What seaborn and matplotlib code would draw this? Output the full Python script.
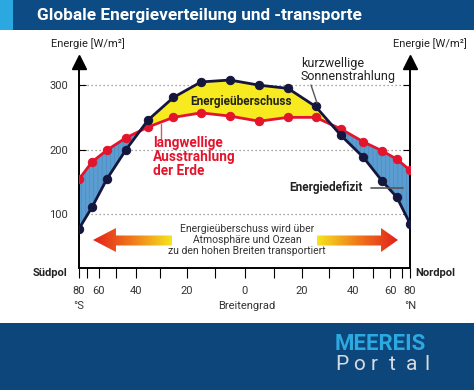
import numpy as np
import pandas as pd
import seaborn as sns
import matplotlib.pyplot as plt
from matplotlib.patches import Rectangle, Polygon
from matplotlib.colors import LinearSegmentedColormap

# Daten
breite = [-80, -65, -55, -45, -35, -25, -15, -5, 5, 15, 25, 35, 45, 55, 65, 80]
kurzwellig = [77, 111, 154, 199, 246, 281, 305, 308, 300, 295, 267, 222, 188, 151, 126, 85]
langwellig = [154, 181, 199, 218, 235, 250, 257, 252, 244, 250, 250, 232, 212, 198, 185, 168]
tick_breite = list(range(-80, 81, 10))
tick_text = ['80', '', '60', '', '40', '', '20', '', '0', '', '20', '', '40', '', '60', '', '80']
y_ticks = [100, 200, 300]

sns.set_theme(style="ticks")
plt.rcParams['font.family'] = ['Roboto', 'DejaVu Sans']
plt.rcParams['hatch.linewidth'] = 0.4

NAVY = '#15163d'
ROT = '#e3142c'
GELB = '#f7ea1e'
BLAU = '#5b9dd0'
DUNKEL = '#222222'

df = pd.DataFrame({'breite': breite, 'kurz': kurzwellig, 'lang': langwellig})
df['x'] = np.sin(np.radians(df['breite']))

fig = plt.figure(figsize=(4.74, 3.9), dpi=100)
W, H = 474, 390
ax = fig.add_axes([79 / W, 1 - 268 / H, 331 / W, (268 - 62) / H])

x = df['x'].values
k = df['kurz'].values
l = df['lang'].values
ax.fill_between(x, l, k, where=k >= l, interpolate=True, color=GELB, lw=0, zorder=1)
ax.fill_between(x, l, k, where=k <= l, interpolate=True, facecolor=BLAU,
                edgecolor='#4a88bd', hatch='||||', lw=0, zorder=1)

sns.lineplot(data=df, x='x', y='lang', ax=ax, color=ROT, marker='o', markersize=6,
             markeredgecolor=ROT, linewidth=2, sort=False, zorder=3)
sns.lineplot(data=df, x='x', y='kurz', ax=ax, color=NAVY, marker='o', markersize=6,
             markeredgecolor=NAVY, linewidth=2, sort=False, zorder=4)

ax.set_xlim(np.sin(np.radians(-80)), np.sin(np.radians(80)))
ax.set_ylim(16, 336)
ax.set_xticks(np.sin(np.radians(tick_breite)))
ax.set_xticklabels(tick_text, fontsize=8, color='#333333')
ax.set_yticks(y_ticks)
ax.set_yticklabels([str(v) for v in y_ticks], fontsize=8, color='#333333')
ax.set_xlabel('')
ax.set_ylabel('')
ax.tick_params(axis='x', direction='out', length=7, width=0.8, pad=6, color='black')
ax.tick_params(axis='y', direction='in', length=5, width=0.8, pad=8, left=True, right=True, color='black')
for v in y_ticks:
    ax.axhline(v, color='#8a8a8a', lw=0.9, ls=(0, (1, 2.2)), zorder=0)
ax.spines['top'].set_visible(False)
for s in ['left', 'right', 'bottom']:
    ax.spines[s].set_visible(True)
    ax.spines[s].set_color('black')
    ax.spines[s].set_linewidth(1.4)
ax.plot([0, 1], [1, 1], transform=ax.transAxes, marker='^', ms=10, color='black',
        ls='none', clip_on=False, zorder=5)
ax.set_facecolor('white')

# Overlay fuer Rahmen, Texte und Pfeile (Pixelkoordinaten)
ox = fig.add_axes([0, 0, 1, 1], zorder=5)
ox.patch.set_visible(False)
ox.axis('off')

ox.add_patch(Rectangle((0, 0), W, 30, color='#0d4b84', lw=0))
ox.add_patch(Rectangle((0, 0), 13, 30, color='#2aa8df', lw=0))
ox.text(37, 15.5, 'Globale Energieverteilung und -transporte', color='white',
        fontsize=12.4, fontweight='bold', ha='left', va='center')

ox.add_patch(Rectangle((0, 323), W, H - 323, color='#0d467b', lw=0))
ox.text(335, 344, 'MEEREIS', color='#2ba9e0', fontsize=16, fontweight='bold',
        ha='left', va='center')
for i, c in enumerate('Portal'):
    ox.text(335 + i * 17.8, 365, c, color='#d6dbe0', fontsize=15, ha='left', va='center')

ox.text(88, 44, 'Energie [W/m²]', fontsize=8, color=DUNKEL, ha='center', va='center')
ox.text(430, 44, 'Energie [W/m²]', fontsize=8, color=DUNKEL, ha='center', va='center')

ox.text(301, 70, 'kurzwellige\nSonnenstrahlung', fontsize=9, color=DUNKEL,
        ha='left', va='center', linespacing=1.05)
ox.plot([311, 317], [85, 103], color='#555555', lw=1)
ox.text(190, 101, 'Energieüberschuss', fontsize=8.5, fontweight='bold', color=DUNKEL,
        ha='left', va='center')
ox.text(153, 157, 'langwellige\nAusstrahlung\nder Erde', fontsize=9.8, fontweight='bold',
        color=ROT, ha='left', va='center', linespacing=1.0)
ox.plot([161, 161], [124, 139], color='#d05a66', lw=1)
ox.text(289, 188, 'Energiedefizit', fontsize=8.5, fontweight='bold', color=DUNKEL,
        ha='left', va='center')
ox.plot([371, 403], [188, 188], color='#555555', lw=1.2)

ox.text(247, 240, 'Energieüberschuss wird über\nAtmosphäre und Ozean\nzu den hohen Breiten transportiert',
        fontsize=7.5, color='#333333', ha='center', va='center', linespacing=1.15)

ox.text(67, 273, 'Südpol', fontsize=8, fontweight='bold', color=DUNKEL, ha='right', va='center')
ox.text(415, 273, 'Nordpol', fontsize=8, fontweight='bold', color=DUNKEL, ha='left', va='center')
ox.text(79, 306, '°S', fontsize=8, color='#333333', ha='center', va='center')
ox.text(247, 306, 'Breitengrad', fontsize=8, color='#333333', ha='center', va='center')
ox.text(410, 306, '°N', fontsize=8, color='#333333', ha='center', va='center')

verlauf = LinearSegmentedColormap.from_list('v', ['#e3201b', '#f07a1c', '#f5e61c'])
grad = np.linspace(0, 1, 256).reshape(1, -1)


def pfeil(pts, cmap):
    poly = Polygon(pts, closed=True, facecolor='none', edgecolor='none')
    ox.add_patch(poly)
    xs = [p[0] for p in pts]
    ys = [p[1] for p in pts]
    im = ox.imshow(grad, cmap=cmap, extent=(min(xs), max(xs), max(ys), min(ys)),
                   aspect='auto', zorder=2)
    im.set_clip_path(poly)


pfeil([(93, 240), (116, 228), (116, 235.5), (172, 235.5), (172, 245.5), (116, 245.5), (116, 252)],
      verlauf)
pfeil([(398, 240), (381, 228), (381, 235.5), (317, 235.5), (317, 245.5), (381, 245.5), (381, 252)],
      verlauf.reversed())

ox.set_xlim(0, W)
ox.set_ylim(H, 0)

fig.savefig('out.png', dpi=100, facecolor='white')
